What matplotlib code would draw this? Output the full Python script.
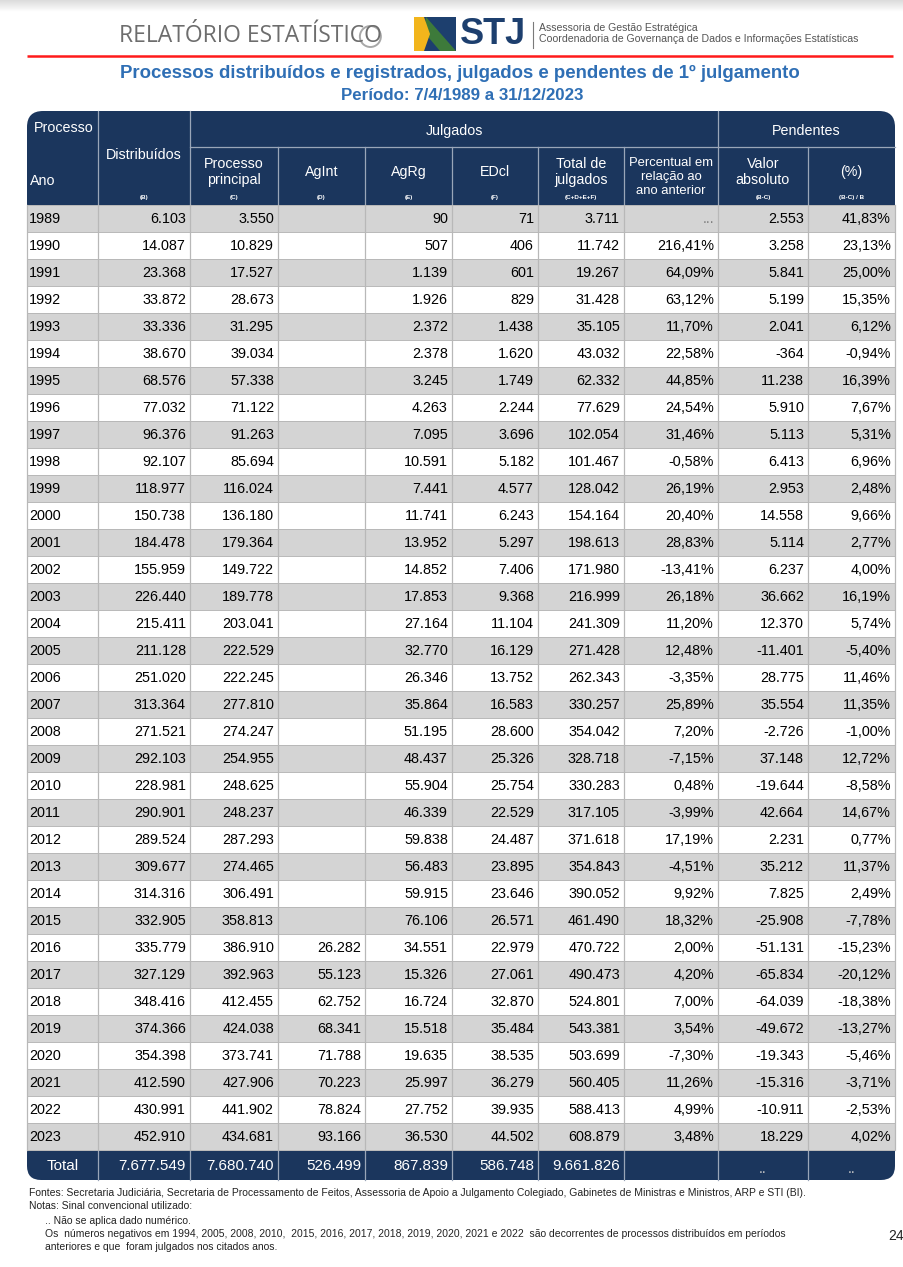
import numpy as np
import matplotlib
matplotlib.use('Agg')
import matplotlib.pyplot as plt
from matplotlib.patches import Rectangle, FancyBboxPatch, Polygon, Circle

# ---- data ----
anos = list(range(1989, 2024))
distribuidos = [6103, 14087, 23368, 33872, 33336, 38670, 68576, 77032, 96376, 92107,
                118977, 150738, 184478, 155959, 226440, 215411, 211128, 251020, 313364, 271521,
                292103, 228981, 290901, 289524, 309677, 314316, 332905, 335779, 327129, 348416,
                374366, 354398, 412590, 430991, 452910]
proc_principal = [3550, 10829, 17527, 28673, 31295, 39034, 57338, 71122, 91263, 85694,
                  116024, 136180, 179364, 149722, 189778, 203041, 222529, 222245, 277810, 274247,
                  254955, 248625, 248237, 287293, 274465, 306491, 358813, 386910, 392963, 412455,
                  424038, 373741, 427906, 441902, 434681]
agint = [None] * 27 + [26282, 55123, 62752, 68341, 71788, 70223, 78824, 93166]
agrg = [90, 507, 1139, 1926, 2372, 2378, 3245, 4263, 7095, 10591,
        7441, 11741, 13952, 14852, 17853, 27164, 32770, 26346, 35864, 51195,
        48437, 55904, 46339, 59838, 56483, 59915, 76106, 34551, 15326, 16724,
        15518, 19635, 25997, 27752, 36530]
edcl = [71, 406, 601, 829, 1438, 1620, 1749, 2244, 3696, 5182,
        4577, 6243, 5297, 7406, 9368, 11104, 16129, 13752, 16583, 28600,
        25326, 25754, 22529, 24487, 23895, 23646, 26571, 22979, 27061, 32870,
        35484, 38535, 36279, 39935, 44502]
total_julg = [3711, 11742, 19267, 31428, 35105, 43032, 62332, 77629, 102054, 101467,
              128042, 154164, 198613, 171980, 216999, 241309, 271428, 262343, 330257, 354042,
              328718, 330283, 317105, 371618, 354843, 390052, 461490, 470722, 490473, 524801,
              543381, 503699, 560405, 588413, 608879]
perc_anterior = [None, 216.41, 64.09, 63.12, 11.70, 22.58, 44.85, 24.54, 31.46, -0.58,
                 26.19, 20.40, 28.83, -13.41, 26.18, 11.20, 12.48, -3.35, 25.89, 7.20,
                 -7.15, 0.48, -3.99, 17.19, -4.51, 9.92, 18.32, 2.00, 4.20, 7.00,
                 3.54, -7.30, 11.26, 4.99, 3.48]
pend_abs = [2553, 3258, 5841, 5199, 2041, -364, 11238, 5910, 5113, 6413,
            2953, 14558, 5114, 6237, 36662, 12370, -11401, 28775, 35554, -2726,
            37148, -19644, 42664, 2231, 35212, 7825, -25908, -51131, -65834, -64039,
            -49672, -19343, -15316, -10911, 18229]
pend_pct = [41.83, 23.13, 25.00, 15.35, 6.12, -0.94, 16.39, 7.67, 5.31, 6.96,
            2.48, 9.66, 2.77, 4.00, 16.19, 5.74, -5.40, 11.46, 11.35, -1.00,
            12.72, -8.58, 14.67, 0.77, 11.37, 2.49, -7.78, -15.23, -20.12, -18.38,
            -13.27, -5.46, -3.71, -2.53, 4.02]
totais = [7677549, 7680740, 526499, 867839, 586748, 9661826]

titulo = 'Processos distribuídos e registrados, julgados e pendentes de 1º julgamento'
periodo = 'Período: 7/4/1989 a 31/12/2023'
notas = ['Fontes: Secretaria Judiciária, Secretaria de Processamento de Feitos, Assessoria de Apoio a Julgamento Colegiado, Gabinetes de Ministras e Ministros, ARP e STI (BI).',
         'Notas: Sinal convencional utilizado:',
         '.. Não se aplica dado numérico.',
         'Os  números negativos em 1994, 2005, 2008, 2010,  2015, 2016, 2017, 2018, 2019, 2020, 2021 e 2022  são decorrentes de processos distribuídos em períodos',
         'anteriores e que  foram julgados nos citados anos.']


def fmt_int(v):
    if v is None:
        return ''
    return f'{v:,}'.replace(',', '.')


def fmt_pct(v):
    if v is None:
        return '...'
    return f'{v:.2f}'.replace('.', ',') + '%'


FONT = 'Liberation Sans'
NAVY = '#1b365d'
GRAY = '#d4d4d4'
LINE = '#b8b8b8'
BLUE = '#2f6fb5'

fig = plt.figure(figsize=(9.04, 12.67), dpi=100)
ax = fig.add_axes([0, 0, 1, 1])

# top shadow band
grad = np.linspace(0.86, 1.0, 20).reshape(-1, 1)
ax.imshow(np.dstack([grad, grad, grad]), extent=(0, 904, 12, 0), aspect='auto')
ax.set_xlim(0, 904)
ax.set_ylim(1267, 0)
ax.axis('off')

# ---- page header ----
rel = ax.text(119, 36, 'RELATÓRIO ESTATÍSTICO', fontsize=16.5, color='#6d6d6d',
              family='Open Sans', va='center', ha='left')
# ring drawn around the final "O" (logo style)
fig.canvas.draw()
bb = rel.get_window_extent().transformed(ax.transData.inverted())
x_end = max(bb.x0, bb.x1)
ax.add_patch(Circle((x_end - 11.5, 36.5), 10.5, fill=False, ec='#a8a8a8', lw=1.4))
# STJ emblem
ax.add_patch(Rectangle((420, 17), 36, 34, fc='#1d3f6e', ec='none'))
ax.add_patch(Polygon([[426, 17], [456, 51], [440, 51], [424, 32]], fc='#3d7a3a', ec='none'))
ax.add_patch(Polygon([[414, 17], [424, 17], [430, 34], [424, 51], [414, 51]], fc='#f2b51c', ec='none'))
ax.text(460, 35, 'STJ', fontsize=26, fontweight='bold', color='#1d3f6e',
        family=FONT, va='center', ha='left')
ax.plot([533, 533], [22, 48], color='#7a7a7a', lw=0.8)
ax.text(539, 28, 'Assessoria de Gestão Estratégica', fontsize=7.6, color='#555555',
        family=FONT, va='center')
ax.text(539, 39, 'Coordenadoria de Governança de Dados e Informações Estatísticas', fontsize=7.6,
        color='#555555', family=FONT, va='center')
ax.plot([27, 893], [55.5, 55.5], color='#ff1a1a', lw=1.8, solid_capstyle='butt')

ax.text(460, 73, titulo, fontsize=13.4, fontweight='bold', color=BLUE,
        family=FONT, ha='center', va='center')
ax.text(462, 96, periodo, fontsize=12.2, fontweight='bold', color=BLUE,
        family=FONT, ha='center', va='center')

# ---- table geometry ----
xs = [27, 98, 190, 278, 365, 452, 538, 624, 718, 808, 895]
head_top, head_mid, head_bot = 111, 147, 205
row_h = 27.0
n = len(anos)
tab_bot = head_bot + n * row_h
tot_bot = tab_bot + 30

# header background (rounded top corners)
ax.add_patch(FancyBboxPatch((xs[0], head_top), xs[-1] - xs[0], head_bot - head_top,
                            boxstyle='round,pad=0,rounding_size=16', fc=NAVY, ec='none'))
ax.add_patch(Rectangle((xs[0], head_top + 30), xs[-1] - xs[0], head_bot - head_top - 30,
                       fc=NAVY, ec='none'))
hl = '#9aa6b8'
for x in xs[1:-1]:
    y0 = head_top if x in (xs[1], xs[2], xs[8]) else head_mid
    ax.plot([x, x], [y0, head_bot], color=hl, lw=0.9)
ax.plot([xs[2], xs[-1]], [head_mid, head_mid], color=hl, lw=0.9)

wt = dict(color='white', family=FONT, fontsize=10.3)
ax.text(34, 128, 'Processo', ha='left', va='center', **wt)
ax.text(30, 181, 'Ano', ha='left', va='center', **wt)
ax.text((xs[1] + xs[2]) / 2, 155, 'Distribuídos', ha='center', va='center', **wt)
ax.text((xs[2] + xs[8]) / 2, 131, 'Julgados', ha='center', va='center', **wt)
ax.text((xs[8] + xs[-1]) / 2, 131, 'Pendentes', ha='center', va='center', **wt)

sub_titles = ['Processo\nprincipal', 'AgInt', 'AgRg', 'EDcl', 'Total de\njulgados',
              'Percentual em\nrelação ao\nano anterior', 'Valor\nabsoluto', '(%)']
sub_codes = ['(C)', '(D)', '(E)', '(F)', '(C+D+E+F)', '', '(B-C)', '(B-C) / B']
sub_y = [172, 172, 172, 172, 172, 177, 172, 172]
sub_fs = [10.3, 10.3, 10.3, 10.3, 10.3, 9.4, 10.3, 10.3]
for i, (t, c, yy, f) in enumerate(zip(sub_titles, sub_codes, sub_y, sub_fs)):
    cx = (xs[i + 2] + xs[i + 3]) / 2
    ax.text(cx, yy, t, ha='center', va='center', linespacing=1.2, color='white',
            family=FONT, fontsize=f)
    if c:
        ax.text(cx, 197, c, ha='center', va='center', color='white', family=FONT,
                fontsize=4.5, fontweight='bold')
ax.text((xs[1] + xs[2]) / 2, 197, '(B)', ha='center', va='center', color='white',
        family=FONT, fontsize=4.5, fontweight='bold')

# ---- data rows ----
fs = 10.4
pad = 4
for i, ano in enumerate(anos):
    y0 = head_bot + i * row_h
    if i % 2 == 0:
        ax.add_patch(Rectangle((xs[0], y0), xs[-1] - xs[0], row_h, fc=GRAY, ec='none'))
    yc = y0 + row_h / 2 + 0.5
    vals = [fmt_int(distribuidos[i]), fmt_int(proc_principal[i]), fmt_int(agint[i]),
            fmt_int(agrg[i]), fmt_int(edcl[i]), fmt_int(total_julg[i]),
            fmt_pct(perc_anterior[i]), fmt_int(pend_abs[i]), fmt_pct(pend_pct[i])]
    ax.text(xs[0] + 2, yc, str(ano), ha='left', va='center', fontsize=fs,
            family=FONT, color='black')
    for j, v in enumerate(vals):
        color = '#808080' if v == '...' else 'black'
        ax.text(xs[j + 2] - pad, yc, v, ha='right', va='center', fontsize=fs,
                family=FONT, color=color)

for i in range(n + 1):
    y = head_bot + i * row_h
    ax.plot([xs[0], xs[-1]], [y, y], color=LINE, lw=0.7)
for x in xs:
    ax.plot([x, x], [head_bot, tab_bot], color=LINE, lw=0.9)

# ---- total row (rounded bottom corners) ----
ax.add_patch(FancyBboxPatch((xs[0], tab_bot + 1), xs[-1] - xs[0], tot_bot - tab_bot - 1,
                            boxstyle='round,pad=0,rounding_size=14', fc=NAVY, ec='none'))
ax.add_patch(Rectangle((xs[0], tab_bot + 1), xs[-1] - xs[0], 14, fc=NAVY, ec='none'))
for x in xs[1:-1]:
    ax.plot([x, x], [tab_bot + 1, tot_bot], color=hl, lw=0.9)
ty = (tab_bot + tot_bot) / 2 + 1
ax.text((xs[0] + xs[1]) / 2, ty, 'Total', ha='center', va='center', color='white',
        family=FONT, fontsize=11)
for j, v in enumerate(totais):
    ax.text(xs[j + 2] - pad, ty, fmt_int(v), ha='right', va='center', color='white',
            family=FONT, fontsize=11)
for k in (8, 9):
    ax.text((xs[k] + xs[k + 1]) / 2, ty + 3, '..', ha='center', va='center', color='#c8c8c8',
            family=FONT, fontsize=fs)

# ---- notes ----
fn = 7.5
ny = [1193, 1206, 1221, 1234, 1247]
nx = [29, 29, 45, 45, 45]
for t, x, y in zip(notas, nx, ny):
    ax.text(x, y, t, ha='left', va='center', fontsize=fn, family=FONT, color='#222222')
ax.text(888, 1236, '24', ha='left', va='center', fontsize=10, family=FONT,
        color='#222222')

fig.savefig('out.png', dpi=100)
